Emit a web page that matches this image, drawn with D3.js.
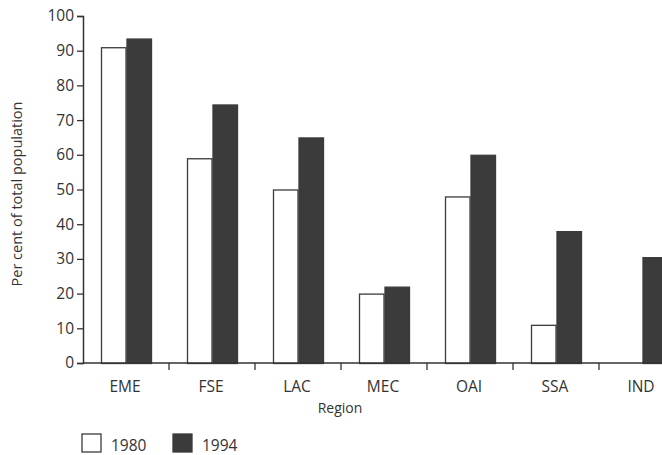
<!DOCTYPE html>
<html>
<head>
<meta charset="utf-8">
<script src="https://cdn.jsdelivr.net/npm/d3@7"></script>
<style>
  body { margin: 0; background: #fff; }
  svg { display: block; }
  text { font-family: "Open Sans", sans-serif; fill: #333; }
</style>
</head>
<body>
<svg id="chart" width="662" height="455"></svg>
<script>
var regions = ["EME", "FSE", "LAC", "MEC", "OAI", "SSA", "IND"];
var years = ["1980", "1994"];
var values1980 = [91, 59, 50, 20, 48, 11, null];
var values1994 = [93.5, 74.5, 65, 22, 60, 38, 30.5];
var yTicks = [0, 10, 20, 30, 40, 50, 60, 70, 80, 90, 100];

var width = 662;
var height = 455;
var margin = { top: 16, left: 83, bottom: 92 };
var bandW = 86;

var svg = d3.select("#chart");

var data = regions.map((r, i) => ({
    region: r,
    vals: [
        { year: "1980", v: values1980[i] },
        { year: "1994", v: values1994[i] }
    ]
}));

var xScale = d3.scaleBand()
    .domain(regions)
    .range([margin.left, margin.left + bandW * regions.length])
    .padding(0);

var xInner = d3.scaleBand()
    .domain(years)
    .range([18, 69])
    .padding(0);

var yScale = d3.scaleLinear()
    .domain([0, 100])
    .range([height - margin.bottom, margin.top]);

var colors = { "1980": "#ffffff", "1994": "#3b3b3b" };

// bars
var groups = svg.selectAll(".grp")
    .data(data)
    .enter()
    .append("g")
    .attr("class", "grp")
    .attr("transform", d => `translate(${xScale(d.region)},0)`);

groups.selectAll("rect")
    .data(d => d.vals.filter(e => e.v != null))
    .enter()
    .append("rect")
    .attr("x", d => xInner(d.year) + 0.5)
    .attr("y", d => yScale(d.v) + 0.5)
    .attr("width", xInner.bandwidth() - 1)
    .attr("height", d => yScale(0) - yScale(d.v))
    .attr("fill", d => colors[d.year])
    .attr("stroke", "#3b3b3b")
    .attr("stroke-width", 1.3);

// y axis
var yAxis = d3.axisLeft(yScale).tickValues(yTicks).tickSize(6).tickPadding(3);
var yg = svg.append("g")
    .attr("transform", `translate(${margin.left},0)`)
    .call(yAxis);
yg.select(".domain").attr("stroke", "#333").attr("stroke-width", 1.5);
yg.selectAll(".tick line").attr("stroke", "#333").attr("stroke-width", 1.3);
yg.selectAll("text").style("font-size", "15.5px").attr("fill", "#333");

// x axis with ticks at band boundaries
var xg = svg.append("g")
    .attr("transform", `translate(0,${yScale(0)})`);
xg.append("line")
    .attr("x1", margin.left)
    .attr("x2", width)
    .attr("stroke", "#333")
    .attr("stroke-width", 1.5);
xg.selectAll(".xtick")
    .data(regions.slice(1))
    .enter()
    .append("line")
    .attr("x1", d => xScale(d))
    .attr("x2", d => xScale(d))
    .attr("y1", 0)
    .attr("y2", 7)
    .attr("stroke", "#333")
    .attr("stroke-width", 1.3);
xg.selectAll(".xlabel")
    .data(regions)
    .enter()
    .append("text")
    .attr("x", d => xScale(d) + bandW / 2 - 1)
    .attr("y", 29)
    .attr("text-anchor", "middle")
    .style("font-size", "15.5px")
    .text(d => d);

// axis titles
svg.append("text")
    .attr("x", 340)
    .attr("y", 413)
    .attr("text-anchor", "middle")
    .style("font-size", "14px")
    .text("Region");

svg.append("text")
    .attr("transform", "translate(22,194) rotate(-90)")
    .attr("text-anchor", "middle")
    .style("font-size", "14.5px")
    .text("Per cent of total population");

// legend
var legend = svg.selectAll(".leg")
    .data(years)
    .enter()
    .append("g")
    .attr("transform", (d, i) => `translate(${82 + i * 91},434)`);
legend.append("rect")
    .attr("width", 19)
    .attr("height", 18)
    .attr("fill", d => colors[d])
    .attr("stroke", "#3b3b3b")
    .attr("stroke-width", 1.3);
legend.append("text")
    .attr("x", 29)
    .attr("y", 17)
    .style("font-size", "15.5px")
    .text(d => d);
</script>
</body>
</html>
